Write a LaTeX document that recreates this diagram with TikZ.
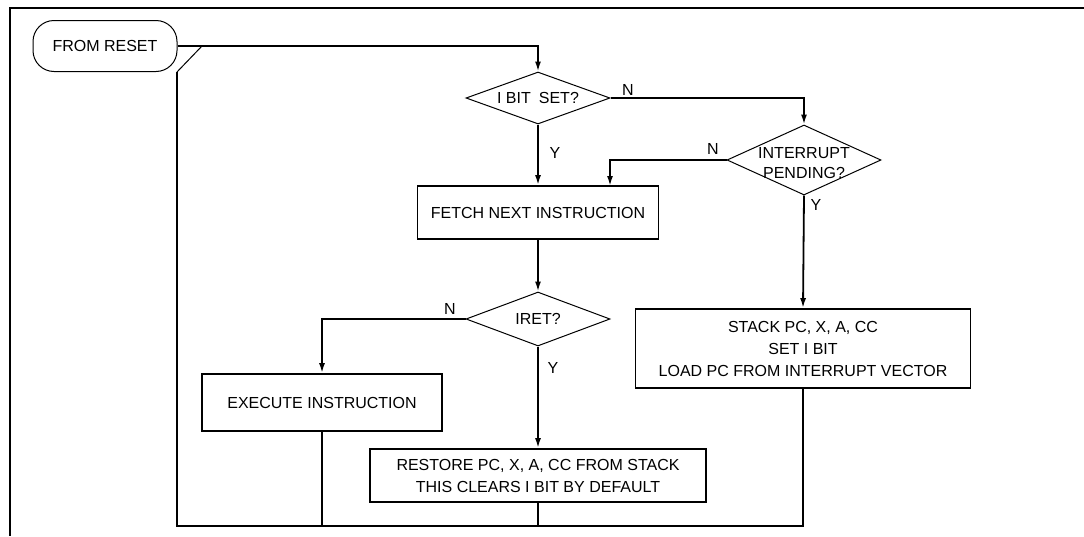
\documentclass[tikz,border=0pt]{standalone}
\usepackage{fontspec}
\setmainfont{Liberation Sans}
\usetikzlibrary{shapes.geometric,arrows.meta}
\begin{document}
\begin{tikzpicture}[x=1pt,y=-1pt,
  every node/.style={font=\fontsize{16}{22}\selectfont, inner sep=0pt},
  procbox/.style={draw, line width=1.8pt, align=center},
  decision/.style={draw, diamond, line width=1pt, inner sep=0pt},
  startbox/.style={draw, rounded corners=21pt, line width=1pt, minimum width=144pt, minimum height=51pt},
  conn/.style={line width=1.8pt, -{Latex[length=10pt,width=6pt]}},
  loopline/.style={line width=1.6pt},
  frameline/.style={line width=1.3pt}
]
\useasboundingbox (0,0) rectangle (1084,536);
% frame
\draw[frameline] (1084,8) -- (10,8) -- (10,536);

% nodes
\node[startbox] (reset) at (105,46) {FROM RESET};
\node[decision, minimum width=144pt, minimum height=52pt] (ibit) at (538,98) {};
\node (ibittext) at (538,98) {I BIT\hspace{0.5em}SET?};
\node[decision, minimum width=154pt, minimum height=70pt] (intp) at (804,160) {};
\node[align=center, font=\fontsize{16}{20}\selectfont] (intptext) at (804,163) {INTERRUPT\\PENDING?};
\node[procbox, minimum width=241pt, minimum height=53pt] (fetch) at (538,212.5) {FETCH NEXT INSTRUCTION};
\node[decision, minimum width=144pt, minimum height=54pt] (iret) at (538,319) {};
\node (irettext) at (538,319) {IRET?};
\node[procbox, minimum width=240pt, minimum height=57pt] (exec) at (322,402.5) {EXECUTE INSTRUCTION};
\node[procbox, minimum width=336pt, minimum height=53pt] (restore) at (538,475.5) {RESTORE PC, X, A, CC FROM STACK\\THIS CLEARS I BIT BY DEFAULT};
\node[procbox, minimum width=335pt, minimum height=79pt] (stack) at (803,348.5) {STACK PC, X, A, CC\\SET I BIT\\LOAD PC FROM INTERRUPT VECTOR};

% labels
\node (n1) at (628,90) {N};
\node (y1) at (555,153) {Y};
\node (n2) at (713,149) {N};
\node (y2) at (816,205) {Y};
\node (n3) at (450,309) {N};
\node (y3) at (553,368) {Y};

% coordinates for loop
\coordinate (d1) at (202,46);
\coordinate (d2) at (177,72);
\coordinate (bl) at (177,526);
\coordinate (br) at (803,526);
\coordinate (fetchin) at (610,186);

% connectors
\draw[conn] (reset.east) -| (ibit.north);
\draw[conn] (ibit.east) -| (intp.north);
\draw[conn] (ibit.south) -- (fetch.north);
\draw[conn] (intp.west) -| (fetchin);
\draw[conn] (intp.south) -- (stack.north);
\draw[conn] (fetch.south) -- (iret.north);
\draw[conn] (iret.west) -| (exec.north);
\draw[conn] (iret.south) -- (restore.north);

% return loop
\draw[line width=1pt] (d1) -- (d2);
\draw[loopline] (d2) -- (bl) -- (br) -- (stack.south);
\draw[loopline] (exec.south) -- (exec.south |- bl);
\draw[loopline] (restore.south) -- (restore.south |- bl);
\end{tikzpicture}
\end{document}
